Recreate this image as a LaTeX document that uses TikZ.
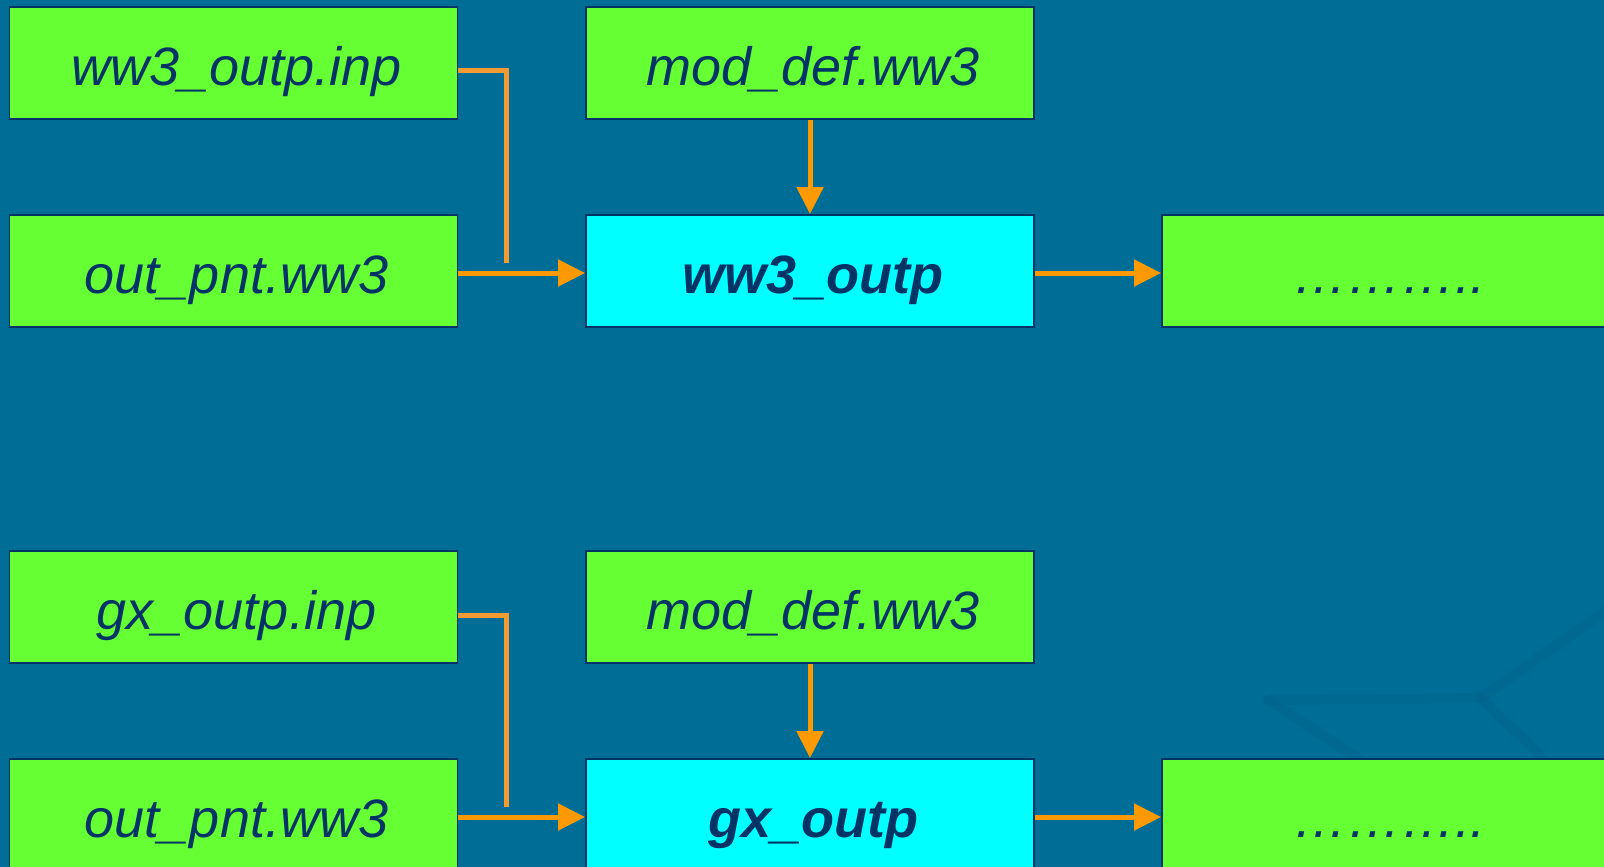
\documentclass[tikz,border=0pt]{standalone}
\usepackage{fontspec}
\setmainfont{Liberation Sans}
\usetikzlibrary{arrows.meta}
\definecolor{bg}{HTML}{006D96}
\definecolor{navy}{HTML}{003366}
\definecolor{boxgreen}{HTML}{66FF33}
\definecolor{boxcyan}{HTML}{00FFFF}
\definecolor{arr}{HTML}{FF9900}
\definecolor{elb}{HTML}{F39A32}
\definecolor{wm}{HTML}{00628A}
\begin{document}
\begin{tikzpicture}[x=1pt,y=-1pt,
 filebox/.style={draw=navy, line width=1.8pt, fill=boxgreen, minimum width=448pt, minimum height=112pt, inner sep=0pt, text height=56pt, text depth=12pt, text=navy, font=\fontsize{54}{60}\selectfont\itshape, execute at begin node={\hspace*{6pt}}},
 progbox/.style={filebox, fill=boxcyan, font=\fontsize{54}{60}\selectfont\bfseries\itshape},
 flow/.style={draw=arr, line width=5pt, -{Triangle[length=27pt,width=26pt]}},
 feed/.style={draw=elb, line width=5pt},
 wmark/.style={draw=wm, line width=10pt, line cap=round, line join=round, opacity=0.35},
]
\useasboundingbox (0,0) rectangle (1604,867);
\clip (0,0) rectangle (1604,867);
\fill[bg] (0,0) rectangle (1604,867);
% faint background watermark
\draw[wmark] (1268,700) -- (1481,698) -- (1604,612);
\draw[wmark] (1268,700) -- (1361,760);
\draw[wmark] (1481,698) -- (1545,760);

% upper group
\node[filebox] (a1) at (233.5,63) {ww3\_outp.inp};
\node[filebox] (a2) at (233.5,271) {out\_pnt.ww3};
\node[filebox] (m1) at (810,63) {mod\_def.ww3};
\node[progbox] (c1) at (810,271) {ww3\_outp};
\node[filebox] (r1) at (1386,271) {………..};
\coordinate (e1) at (506,263);
\draw[feed] ([yshift=-8pt]a1.east) -| (e1);
\draw[flow] ([yshift=-2pt]a2.east) -- ([yshift=-2pt]c1.west);
\draw[flow] (m1) -- (c1);
\draw[flow] ([yshift=-2pt]c1.east) -- ([yshift=-2pt]r1.west);

% lower group
\node[filebox] (b1) at (233.5,607) {gx\_outp.inp};
\node[filebox] (b2) at (233.5,815) {out\_pnt.ww3};
\node[filebox] (m2) at (810,607) {mod\_def.ww3};
\node[progbox] (c2) at (810,815) {gx\_outp};
\node[filebox] (r2) at (1386,815) {………..};
\coordinate (e2) at (506,807);
\draw[feed] ([yshift=-8pt]b1.east) -| (e2);
\draw[flow] ([yshift=-2pt]b2.east) -- ([yshift=-2pt]c2.west);
\draw[flow] (m2) -- (c2);
\draw[flow] ([yshift=-2pt]c2.east) -- ([yshift=-2pt]r2.west);
\end{tikzpicture}
\end{document}
